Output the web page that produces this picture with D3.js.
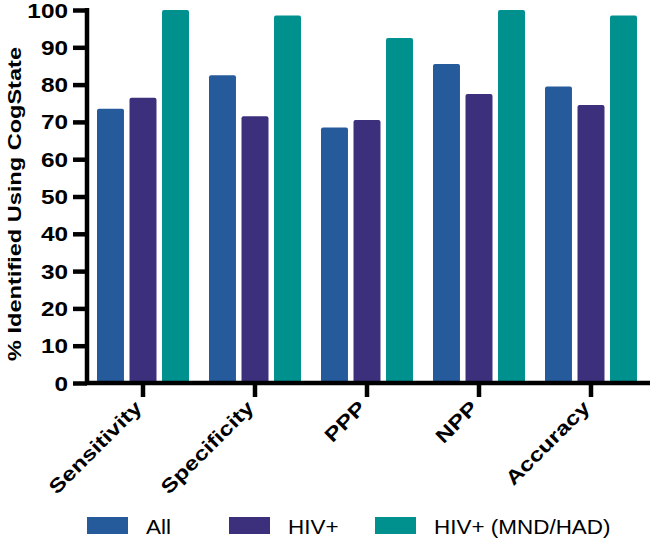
<!DOCTYPE html>
<html>
<head>
<meta charset="utf-8">
<script src="https://cdn.jsdelivr.net/npm/d3@7"></script>
<style>
  body { margin: 0; background: #fff; }
  text { font-family: "Liberation Sans", Arial, sans-serif; }
</style>
</head>
<body>
<svg id="chart"></svg>
<script>
const categories = ["Sensitivity", "Specificity", "PPP", "NPP", "Accuracy"];
const seriesNames = ["All", "HIV+", "HIV+ (MND/HAD)"];
const allValues = [73.5, 82.5, 68.5, 85.5, 79.5];
const hivValues = [76.5, 71.5, 70.5, 77.5, 74.5];
const mndValues = [100, 98.5, 92.5, 100, 98.5];
const yTicks = [0, 10, 20, 30, 40, 50, 60, 70, 80, 90, 100];
const colors = ["#265b9b", "#3c2f7c", "#00918f"];

const width = 650, height = 541;
const svg = d3.select("#chart").attr("width", width).attr("height", height);

const x0 = d3.scaleBand().domain(categories).range([87, 647]);
const x1 = d3.scaleBand().domain(seriesNames).range([0, 92]).paddingInner(0.17);
const y = d3.scaleLinear().domain([0, 100]).range([383, 10]);

const rows = categories.map((c, i) => ({
    cat: c,
    vals: [allValues[i], hivValues[i], mndValues[i]]
}));

// bars
const groups = svg.append("g").selectAll("g")
    .data(rows)
    .join("g")
    .attr("transform", d => `translate(${x0(d.cat) + x0.bandwidth() / 2 - 46},0)`);

groups.selectAll("rect")
    .data(d => d.vals.map((v, j) => ({ name: seriesNames[j], v: v, j: j })))
    .join("rect")
    .attr("x", d => x1(d.name))
    .attr("y", d => y(d.v))
    .attr("width", x1.bandwidth())
    .attr("height", d => y(0) - y(d.v) + 2)
    .attr("rx", 2)
    .attr("fill", d => colors[d.j]);

// y axis
const yAxis = svg.append("g")
    .attr("transform", "translate(87,0)")
    .call(d3.axisLeft(y).tickValues(yTicks).tickSize(14).tickPadding(3));
yAxis.select(".domain").attr("stroke", "#000").attr("stroke-width", 4.5)
    .attr("d", `M0,${y(100) - 2}V${y(0) + 2}`);
yAxis.selectAll(".tick line").attr("stroke", "#000").attr("stroke-width", 4.5);
yAxis.selectAll(".tick text")
    .attr("fill", "#000")
    .attr("x", -19 / 1.25)
    .attr("dy", "0.36em")
    .attr("transform", "scale(1.25,1)")
    .style("font-size", "19.5px")
    .style("font-weight", "bold");

// x axis
const xAxis = svg.append("g")
    .attr("transform", `translate(0,${y(0)})`)
    .call(d3.axisBottom(x0).tickSize(14).tickPadding(6));
xAxis.select(".domain").attr("stroke", "#000").attr("stroke-width", 4.5)
    .attr("d", "M85,0H650");
xAxis.selectAll(".tick line").attr("stroke", "#000").attr("stroke-width", 4.5);
xAxis.selectAll(".tick text")
    .attr("fill", "#000")
    .style("font-size", "19.5px")
    .style("font-weight", "bold")
    .attr("text-anchor", "end")
    .attr("transform", "translate(0,26) rotate(-45) scale(1.25,1)")
    .attr("dy", null)
    .attr("y", 0)
    .attr("x", 0);

// y axis title
svg.append("text")
    .attr("transform", "translate(21,204) rotate(-90) scale(1.24,1)")
    .attr("text-anchor", "middle")
    .style("font-size", "19px")
    .style("font-weight", "bold")
    .text("% Identified Using CogState");

// legend
const legendX = [87, 229, 375];
const legend = svg.append("g").selectAll("g")
    .data(seriesNames)
    .join("g")
    .attr("transform", (d, i) => `translate(${legendX[i]},517)`);
legend.append("rect")
    .attr("width", 41)
    .attr("height", 17)
    .attr("fill", (d, i) => colors[i]);
legend.append("text")
    .attr("transform", "translate(59,9) scale(1.07,1)")
    .attr("dy", "0.36em")
    .style("font-size", "21px")
    .text(d => d);
</script>
</body>
</html>
